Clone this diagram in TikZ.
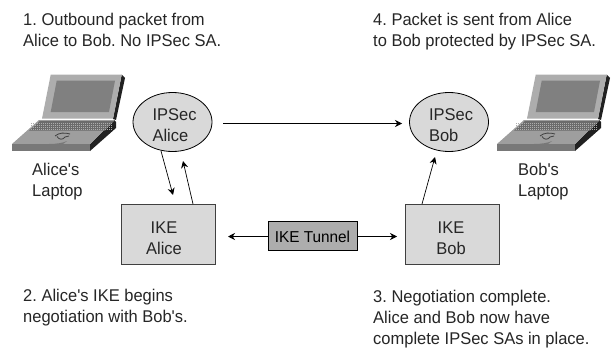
\documentclass[tikz,border=0pt]{standalone}
\usepackage{fontspec}
\setmainfont{Liberation Sans}[Ligatures=TeXOff,FakeStretch=0.97]
\usetikzlibrary{arrows.meta,shapes.geometric}
\definecolor{lt}{gray}{0.85}
\definecolor{dk}{gray}{0.68}
\definecolor{lidc}{gray}{0.68}
\definecolor{scrc}{gray}{0.5}
\definecolor{deck}{gray}{0.62}
\definecolor{frontc}{gray}{0.47}
\definecolor{keyc}{gray}{0.42}
\definecolor{sidec}{gray}{0.13}
\newcommand{\topstrut}[1]{\rule{0pt}{#1}}
\tikzset{
 x=1pt,y=-1pt,
 txt/.style={font=\fontsize{17}{21}\selectfont\frenchspacing,align=left,anchor=base west,inner sep=0pt,text=black!85},
 ell/.style={ellipse,draw=black,line width=0.8pt,fill=lt,minimum width=79pt,minimum height=59pt,inner sep=0pt,font=\fontsize{17}{21}\selectfont,align=left,text=black!85},
 box/.style={rectangle,draw=black!75,line width=1pt,fill=lt,minimum width=94pt,minimum height=60pt,inner sep=0pt,font=\fontsize{17}{21}\selectfont,align=center,text=black!85},
 tun/.style={rectangle,draw=black,line width=0.9pt,fill=dk,minimum width=89pt,minimum height=29pt,inner sep=0pt,font=\fontsize{15.8}{18}\selectfont,text=black},
 arr/.style={draw=black,line width=0.7pt,-{Stealth[length=7pt,width=7pt]}}
}
\newcommand{\laptop}[2]{%
 \begin{scope}[shift={(#1,#2)}]
  \fill[sidec] (109.7,-0.3)--(113,3)--(104,45)--(101,44)--cycle;
  \fill[lidc] (38.7,-0.3)--(109.7,-0.3)--(101,43.7)--(30,43.7)--cycle;
  \fill[scrc] (44.7,5.7)--(103,5.7)--(97,37)--(38.7,37)--cycle;
  \fill[sidec] (102,45)--(104,47)--(104,53)--(78,76)--(78,69)--cycle;
  \fill[deck] (27,45)--(102,45)--(78,69)--(0,69)--cycle;
  \fill[keyc] (28,46)--(102,46)--(93,55.7)--(17,55.7)--cycle;
  \foreach \yy in {47.5,49.5,51.5,53.5}
    \draw[lidc,line width=0.5pt,dash pattern=on 1pt off 1pt] (19,\yy+0.3)--(100,\yy+0.3);
  \fill[frontc] (0,69)--(78,69)--(78,76)--(0,76)--cycle;
  \fill[frontc] (37,69) .. controls (42,71) and (51,71) .. (55,66) .. controls (51,68) and (44,69) .. (37,69)--cycle;
  \draw[black!75,line width=0.8pt] (43,61) .. controls (47,57.5) and (53,57.5) .. (58,59);
  \draw[black!75,line width=0.8pt] (45,61.5) .. controls (47,65) and (51,65) .. (53,62) -- (57,61);
 \end{scope}}
\begin{document}
\begin{tikzpicture}
\useasboundingbox (0,0) rectangle (612,350);
\fill[white] (0,0) rectangle (612,350);
\laptop{12}{75}
\laptop{497}{75}
\node[ell] (ia) at (172.5,122) {\hspace*{4pt}\topstrut{18pt}IPSec\\\hspace*{4pt}Alice};
\node[ell] (ib) at (449,122) {\hspace*{4pt}\topstrut{18pt}IPSec\\\hspace*{4pt}Bob};
\node[box] (ka) at (168,234) {\topstrut{21pt}IKE\hspace*{8pt}\\Alice\hspace*{8pt}};
\node[box] (kb) at (452,234) {\topstrut{21pt}IKE\hspace*{2pt}\\Bob\hspace*{2pt}};
\node[tun] (t) at (312.5,235.5) {\topstrut{15pt}IKE Tunnel};
\coordinate (h1) at (223,123.5);
\coordinate (h2) at (402,123.5);
\coordinate (da) at (173,195);
\coordinate (ua) at (183,161);
\coordinate (us) at (193,204);
\coordinate (ds) at (161,151);
\coordinate (bs) at (422,204);
\coordinate (be) at (435,157);
\coordinate (tl) at (228,236.5);
\coordinate (tr) at (397,236.5);
\draw[arr] (h1)--(h2);
\draw[arr] (ds)--(da);
\draw[arr] (us)--(ua);
\draw[arr] (bs)--(be);
\draw[arr] (t.west|-tl)--(tl);
\draw[arr] (t.east|-tr)--(tr);
\node[txt] (n1) at (23,47) {1. Outbound packet from\\Alice to Bob. No IPSec SA.};
\node[txt] (n4) at (373,47) {4. Packet is sent from Alice\\to Bob protected by IPSec SA.};
\node[txt] (n2) at (23,322) {2. Alice's IKE begins\\negotiation with Bob's.};
\node[txt] (n3) at (373,344) {3. Negotiation complete.\\Alice and Bob now have\\complete IPSec SAs in place.};
\node[txt] (la) at (32,196) {Alice's\\Laptop};
\node[txt] (lb) at (518,196) {Bob's\\Laptop};
\end{tikzpicture}
\end{document}
